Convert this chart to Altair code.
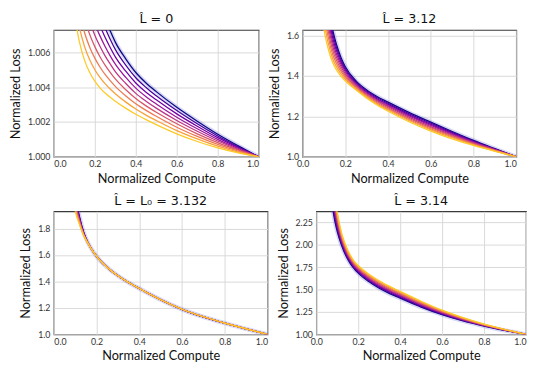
import altair as alt
import pandas as pd

COLORS = ["#0d0887", "#46039f", "#7201a8", "#9c179e", "#bd3786",
          "#d8576b", "#ed7953", "#fb9f3a", "#fdca26"]
NAMES = [f"c{i}" for i in range(9)]

# ---------- panel 1 : L-hat = 0 ----------
x1 = [0.1, 0.125, 0.15, 0.175, 0.2, 0.225, 0.25, 0.275, 0.3, 0.35, 0.4, 0.45, 0.5, 0.6, 0.7, 0.8, 0.9, 1.0]
p1 = [
    [1.01500, 1.01330, 1.01190, 1.01070, 1.00965, 1.00875, 1.00795, 1.00725, 1.00660, 1.00565, 1.00485, 1.00425, 1.00375, 1.00285, 1.00205, 1.00130, 1.00063, 1.0],
    [1.01415, 1.01246, 1.01111, 1.00997, 1.00899, 1.00815, 1.00742, 1.00677, 1.00618, 1.00529, 1.00455, 1.00399, 1.00351, 1.00266, 1.00190, 1.00120, 1.00058, 1.0],
    [1.01330, 1.01163, 1.01031, 1.00924, 1.00833, 1.00756, 1.00688, 1.00629, 1.00575, 1.00494, 1.00425, 1.00372, 1.00328, 1.00247, 1.00176, 1.00110, 1.00053, 1.0],
    [1.01245, 1.01079, 1.00952, 1.00851, 1.00766, 1.00696, 1.00635, 1.00581, 1.00533, 1.00458, 1.00395, 1.00346, 1.00304, 1.00228, 1.00161, 1.00100, 1.00048, 1.0],
    [1.01160, 1.00995, 1.00873, 1.00778, 1.00700, 1.00636, 1.00581, 1.00534, 1.00490, 1.00423, 1.00365, 1.00320, 1.00280, 1.00209, 1.00147, 1.00091, 1.00043, 1.0],
    [1.01075, 1.00911, 1.00793, 1.00704, 1.00634, 1.00576, 1.00528, 1.00486, 1.00448, 1.00387, 1.00335, 1.00293, 1.00256, 1.00190, 1.00132, 1.00081, 1.00038, 1.0],
    [1.00990, 1.00828, 1.00714, 1.00631, 1.00568, 1.00517, 1.00474, 1.00438, 1.00405, 1.00351, 1.00305, 1.00267, 1.00233, 1.00170, 1.00117, 1.00071, 1.00032, 1.0],
    [1.00905, 1.00744, 1.00634, 1.00558, 1.00501, 1.00457, 1.00421, 1.00390, 1.00363, 1.00316, 1.00275, 1.00240, 1.00209, 1.00151, 1.00103, 1.00061, 1.00027, 1.0],
    [1.00820, 1.00660, 1.00555, 1.00485, 1.00435, 1.00397, 1.00367, 1.00342, 1.00320, 1.00280, 1.00245, 1.00214, 1.00185, 1.00132, 1.00088, 1.00051, 1.00022, 1.0],
]

# ---------- panel 2 : L-hat = 3.12 ----------
x2 = [0.09, 0.1, 0.12, 0.14, 0.16, 0.18, 0.2, 0.25, 0.3, 0.35, 0.4, 0.5, 0.6, 0.7, 0.8, 0.9, 1.0]
p2 = [
    [2.10, 1.970, 1.765, 1.632, 1.550, 1.490, 1.445, 1.375, 1.330, 1.297, 1.270, 1.218, 1.171, 1.125, 1.081, 1.040, 1.0],
    [2.05, 1.927, 1.736, 1.612, 1.535, 1.479, 1.436, 1.369, 1.325, 1.292, 1.264, 1.212, 1.166, 1.121, 1.078, 1.038, 1.0],
    [2.00, 1.884, 1.707, 1.591, 1.520, 1.468, 1.428, 1.363, 1.320, 1.286, 1.259, 1.206, 1.160, 1.116, 1.075, 1.037, 1.0],
    [1.95, 1.841, 1.678, 1.571, 1.504, 1.456, 1.419, 1.357, 1.315, 1.281, 1.253, 1.201, 1.155, 1.112, 1.072, 1.035, 1.0],
    [1.90, 1.799, 1.649, 1.550, 1.489, 1.445, 1.410, 1.352, 1.310, 1.276, 1.248, 1.195, 1.149, 1.107, 1.069, 1.034, 1.0],
    [1.85, 1.756, 1.620, 1.529, 1.473, 1.433, 1.401, 1.346, 1.305, 1.271, 1.242, 1.189, 1.144, 1.103, 1.065, 1.032, 1.0],
    [1.80, 1.713, 1.591, 1.508, 1.458, 1.422, 1.392, 1.341, 1.300, 1.265, 1.236, 1.183, 1.138, 1.098, 1.062, 1.030, 1.0],
    [1.75, 1.670, 1.562, 1.487, 1.442, 1.410, 1.383, 1.335, 1.295, 1.260, 1.231, 1.178, 1.133, 1.094, 1.059, 1.029, 1.0],
    [1.70, 1.627, 1.533, 1.467, 1.427, 1.398, 1.374, 1.330, 1.290, 1.255, 1.225, 1.172, 1.127, 1.089, 1.056, 1.027, 1.0],
]

# ---------- panel 3 : L-hat = L0 = 3.132 ----------
x3 = [0.09, 0.1, 0.12, 0.14, 0.16, 0.18, 0.2, 0.25, 0.3, 0.35, 0.4, 0.5, 0.6, 0.7, 0.8, 0.9, 1.0]
p3 = [
    [2.200, 2.060, 1.890, 1.770, 1.692, 1.636, 1.590, 1.506, 1.443, 1.392, 1.347, 1.262, 1.189, 1.132, 1.084, 1.041, 1.0],
    [2.175, 2.044, 1.883, 1.767, 1.691, 1.636, 1.590, 1.506, 1.443, 1.392, 1.347, 1.262, 1.189, 1.132, 1.084, 1.041, 1.0],
    [2.150, 2.028, 1.875, 1.764, 1.691, 1.636, 1.590, 1.506, 1.443, 1.392, 1.347, 1.262, 1.190, 1.132, 1.085, 1.041, 1.0],
    [2.125, 2.011, 1.868, 1.761, 1.690, 1.635, 1.590, 1.506, 1.443, 1.392, 1.347, 1.262, 1.190, 1.133, 1.085, 1.042, 1.0],
    [2.100, 1.995, 1.860, 1.758, 1.690, 1.635, 1.590, 1.506, 1.443, 1.392, 1.347, 1.262, 1.190, 1.133, 1.085, 1.042, 1.0],
    [2.075, 1.979, 1.853, 1.755, 1.689, 1.635, 1.590, 1.506, 1.443, 1.392, 1.347, 1.262, 1.190, 1.133, 1.085, 1.042, 1.0],
    [2.050, 1.963, 1.845, 1.752, 1.688, 1.635, 1.590, 1.506, 1.443, 1.392, 1.347, 1.262, 1.190, 1.133, 1.085, 1.042, 1.0],
    [2.025, 1.946, 1.838, 1.749, 1.688, 1.635, 1.590, 1.506, 1.443, 1.392, 1.347, 1.262, 1.190, 1.133, 1.085, 1.042, 1.0],
    [2.000, 1.930, 1.830, 1.746, 1.687, 1.635, 1.590, 1.506, 1.443, 1.392, 1.347, 1.262, 1.190, 1.133, 1.085, 1.042, 1.0],
]

# ---------- panel 4 : L-hat = 3.14 ----------
x4 = [0.08, 0.09, 0.1, 0.12, 0.14, 0.16, 0.18, 0.2, 0.25, 0.3, 0.35, 0.4, 0.5, 0.6, 0.7, 0.8, 0.9, 1.0]
p4 = [
    [2.38, 2.250, 2.150, 2.000, 1.885, 1.800, 1.735, 1.685, 1.590, 1.515, 1.455, 1.405, 1.305, 1.220, 1.150, 1.093, 1.044, 1.0],
    [2.42, 2.284, 2.178, 2.018, 1.899, 1.812, 1.746, 1.696, 1.601, 1.526, 1.465, 1.414, 1.313, 1.226, 1.155, 1.096, 1.045, 1.0],
    [2.46, 2.318, 2.205, 2.035, 1.914, 1.824, 1.756, 1.706, 1.611, 1.536, 1.476, 1.424, 1.321, 1.233, 1.159, 1.098, 1.047, 1.0],
    [2.50, 2.351, 2.233, 2.053, 1.928, 1.836, 1.767, 1.717, 1.622, 1.547, 1.486, 1.433, 1.329, 1.239, 1.164, 1.101, 1.048, 1.0],
    [2.54, 2.385, 2.260, 2.070, 1.943, 1.848, 1.778, 1.728, 1.633, 1.558, 1.496, 1.443, 1.338, 1.245, 1.168, 1.104, 1.049, 1.0],
    [2.58, 2.419, 2.288, 2.088, 1.957, 1.859, 1.788, 1.738, 1.643, 1.568, 1.506, 1.452, 1.346, 1.251, 1.173, 1.106, 1.050, 1.0],
    [2.62, 2.453, 2.315, 2.105, 1.971, 1.871, 1.799, 1.749, 1.654, 1.579, 1.517, 1.461, 1.354, 1.258, 1.177, 1.109, 1.052, 1.0],
    [2.66, 2.486, 2.343, 2.123, 1.986, 1.883, 1.809, 1.759, 1.664, 1.589, 1.527, 1.471, 1.362, 1.264, 1.182, 1.111, 1.053, 1.0],
    [2.70, 2.520, 2.370, 2.140, 2.000, 1.895, 1.820, 1.770, 1.675, 1.600, 1.537, 1.480, 1.370, 1.270, 1.186, 1.114, 1.054, 1.0],
]

X_TICKS = [0.0, 0.2, 0.4, 0.6, 0.8, 1.0]


def to_df(xs, curves):
    rows = []
    for name, ys in zip(NAMES, curves):
        for x, y in zip(xs, ys):
            rows.append({"compute": x, "loss": y, "curve": name})
    return pd.DataFrame(rows)


def panel(xs, curves, title, ydom, yticks, yfmt, w, h, right_edge):
    xaxis = dict(values=X_TICKS, format=".1f", labelPadding=3, titlePadding=4)
    if right_edge:
        xaxis["labelAlign"] = alt.expr("datum.value >= 1 ? 'right' : 'center'")
    base = alt.Chart(to_df(xs, curves), title=title).encode(
        x=alt.X("compute:Q", title="Normalized Compute",
                scale=alt.Scale(domain=[0, 1], nice=False, zero=False),
                axis=alt.Axis(**xaxis)),
        y=alt.Y("loss:Q", title="Normalized Loss",
                scale=alt.Scale(domain=ydom, nice=False, zero=False),
                axis=alt.Axis(values=yticks, format=yfmt)),
    )
    halo = base.transform_filter(alt.datum.curve == "c0").mark_line(
        clip=True, strokeWidth=4.5, color="#7f7fd6", opacity=0.3, interpolate="monotone"
    )
    lines = base.mark_line(clip=True, strokeWidth=1.3, interpolate="monotone").encode(
        color=alt.Color("curve:N", scale=alt.Scale(domain=NAMES, range=COLORS), legend=None),
    )
    return alt.layer(halo, lines).properties(width=w, height=h)


c1 = panel(x1, p1, "L\u0302 = 0", [1.0, 1.0073], [1.000, 1.002, 1.004, 1.006], ".3f", 210, 130, False)
c2 = panel(x2, p2, "L\u0302 = 3.12", [1.0, 1.627], [1.0, 1.2, 1.4, 1.6], ".1f", 219, 130, True)
c3 = panel(x3, p3, "L\u0302 = L\u2080 = 3.132", [1.0, 1.93], [1.0, 1.2, 1.4, 1.6, 1.8], ".1f", 219, 126, False)
c4 = panel(x4, p4, "L\u0302 = 3.14", [1.0, 2.375], [1.0, 1.25, 1.5, 1.75, 2.0, 2.25], ".2f", 215, 126, True)

row1 = alt.hconcat(c1, c2, spacing=8)
row2 = alt.hconcat(c3, c4, spacing=8)

chart = alt.vconcat(row1, row2, spacing=8).properties(
    padding={"left": 1, "top": 0, "right": 0, "bottom": 0}
).configure_view(
    stroke="#3a3a3a", strokeWidth=1.2
).configure_axis(
    grid=True, gridColor="#d9d9d9", gridWidth=1, ticks=False, domain=False,
    labelFont="Lato", labelFontSize=9, labelColor="#333333", labelPadding=4,
    titleFont="Lato", titleFontSize=13, titleFontWeight="normal", titleColor="#111111",
    titlePadding=5,
).configure_title(
    font="DejaVu Sans", fontSize=13, fontWeight="normal", color="#111111", offset=4
)

chart.save("out.html", embed_options={"renderer": "svg", "actions": False})
